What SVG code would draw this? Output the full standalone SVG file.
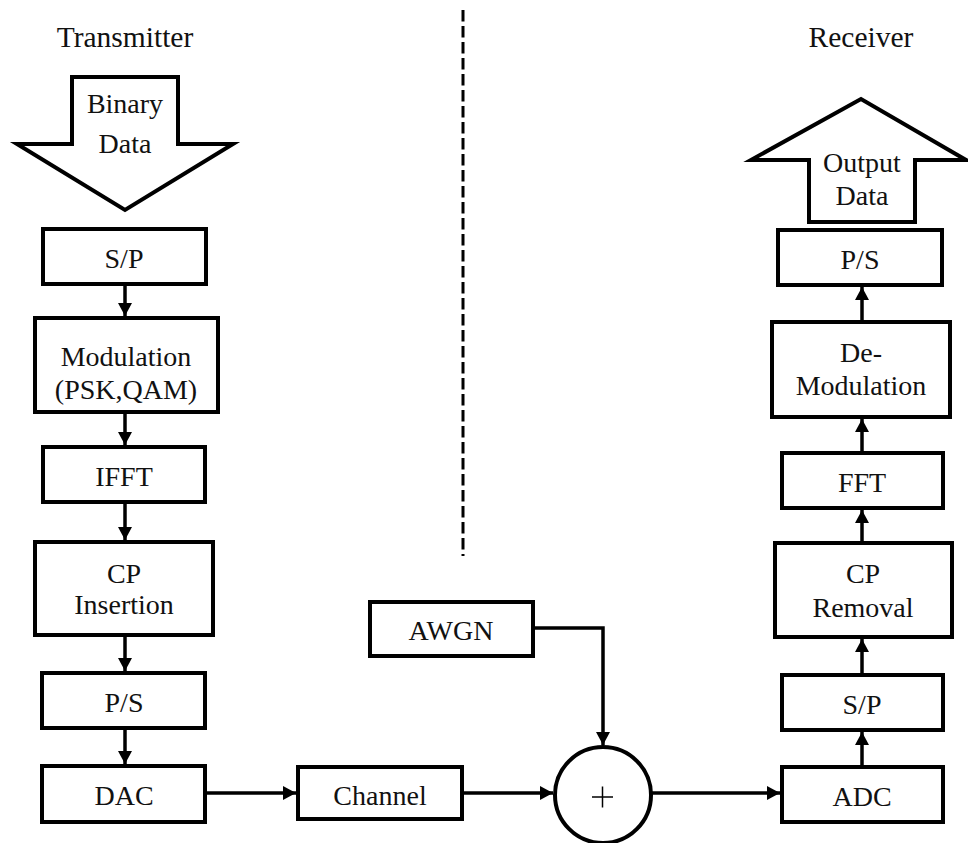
<svg xmlns="http://www.w3.org/2000/svg" width="968" height="843" viewBox="0 0 968 843">
  <style>
    .box { fill: #fff; stroke: #000; stroke-width: 4; }
    .big { fill: #fff; stroke: #000; stroke-width: 4; stroke-linejoin: miter; }
    .lbl { font-family: "Liberation Serif", "Times New Roman", serif; font-size: 28px; fill: #111; text-anchor: middle; }
    .title { font-size: 29.5px; }
    .wire { fill: none; stroke: #000; stroke-width: 3.5; }
    .sep { fill: none; stroke: #000; stroke-width: 3; stroke-dasharray: 11.5 4.5; }
  </style>
  <defs>
    <marker id="head" markerUnits="userSpaceOnUse" markerWidth="14" markerHeight="14" refX="13" refY="7" orient="auto">
      <path d="M0,0 L13,7 L0,14 z" fill="#000"/>
    </marker>
  </defs>

  <rect width="968" height="843" fill="#fff"/>

  <!-- transmitter / receiver split -->
  <line class="sep" x1="463" y1="10" x2="463" y2="556"/>

  <text class="lbl title" x="125" y="47">Transmitter</text>
  <text class="lbl title" x="861" y="47">Receiver</text>

  <!-- input data arrow -->
  <g id="binary-data">
    <polygon class="big" points="72,77 178,77 178,144 233,144 125,210 17,144 72,144"/>
    <text class="lbl" x="125" y="113">Binary</text>
    <text class="lbl" x="125" y="153">Data</text>
  </g>

  <!-- transmitter chain -->
  <g id="tx-sp">
    <rect class="box" x="43" y="229" width="163" height="55"/>
    <text class="lbl" x="124" y="268">S/P</text>
  </g>
  <g id="tx-mod">
    <rect class="box" x="35" y="318" width="183" height="94"/>
    <text class="lbl" x="126" y="366">Modulation</text>
    <text class="lbl" x="126" y="399">(PSK,QAM)</text>
  </g>
  <g id="tx-ifft">
    <rect class="box" x="43" y="447" width="162" height="55"/>
    <text class="lbl" x="124" y="486">IFFT</text>
  </g>
  <g id="tx-cp">
    <rect class="box" x="35" y="542" width="178" height="93"/>
    <text class="lbl" x="124" y="583">CP</text>
    <text class="lbl" x="124" y="614">Insertion</text>
  </g>
  <g id="tx-ps">
    <rect class="box" x="42" y="673" width="163" height="55"/>
    <text class="lbl" x="124" y="712">P/S</text>
  </g>
  <g id="tx-dac">
    <rect class="box" x="42" y="766" width="163" height="56"/>
    <text class="lbl" x="124" y="805">DAC</text>
  </g>

  <!-- channel path -->
  <g id="channel">
    <rect class="box" x="298" y="767" width="164" height="52"/>
    <text class="lbl" x="380" y="805">Channel</text>
  </g>
  <g id="awgn">
    <rect class="box" x="370" y="602" width="163" height="54"/>
    <text class="lbl" x="451" y="640">AWGN</text>
  </g>
  <g id="adder">
    <circle cx="603" cy="795" r="48" fill="#fff" stroke="#000" stroke-width="4"/>
    <line x1="592" y1="797" x2="613" y2="797" stroke="#000" stroke-width="1.5"/>
    <line x1="602.5" y1="786.5" x2="602.5" y2="807.5" stroke="#000" stroke-width="1.5"/>
  </g>

  <!-- receiver chain -->
  <g id="rx-adc">
    <rect class="box" x="782" y="767" width="161" height="55"/>
    <text class="lbl" x="862" y="806">ADC</text>
  </g>
  <g id="rx-sp">
    <rect class="box" x="782" y="675" width="161" height="55"/>
    <text class="lbl" x="862" y="714">S/P</text>
  </g>
  <g id="rx-cp">
    <rect class="box" x="775" y="543" width="177" height="94"/>
    <text class="lbl" x="863" y="583">CP</text>
    <text class="lbl" x="863" y="617">Removal</text>
  </g>
  <g id="rx-fft">
    <rect class="box" x="782" y="453" width="161" height="55"/>
    <text class="lbl" x="862" y="492">FFT</text>
  </g>
  <g id="rx-demod">
    <rect class="box" x="772" y="322" width="178" height="95"/>
    <text class="lbl" x="861" y="362">De-</text>
    <text class="lbl" x="861" y="395">Modulation</text>
  </g>
  <g id="rx-ps">
    <rect class="box" x="778" y="230" width="164" height="55"/>
    <text class="lbl" x="860" y="269">P/S</text>
  </g>

  <!-- output data arrow -->
  <g id="output-data">
    <polygon class="big" points="809,222 915,222 915,160 966,160 861,99 751,160 809,160"/>
    <text class="lbl" x="862" y="172">Output</text>
    <text class="lbl" x="862" y="205">Data</text>
  </g>

  <!-- connectors -->
  <g id="connectors">
    <line class="wire" x1="125" y1="286" x2="125" y2="316" marker-end="url(#head)"/>
    <line class="wire" x1="125" y1="414" x2="125" y2="445" marker-end="url(#head)"/>
    <line class="wire" x1="125" y1="504" x2="125" y2="540" marker-end="url(#head)"/>
    <line class="wire" x1="125" y1="637" x2="125" y2="671" marker-end="url(#head)"/>
    <line class="wire" x1="125" y1="730" x2="125" y2="764" marker-end="url(#head)"/>

    <line class="wire" x1="207" y1="793" x2="296" y2="793" marker-end="url(#head)"/>
    <line class="wire" x1="464" y1="793" x2="553" y2="793" marker-end="url(#head)"/>
    <polyline class="wire" points="535,628 603,628 603,745" marker-end="url(#head)"/>
    <line class="wire" x1="651" y1="793" x2="780" y2="793" marker-end="url(#head)"/>

    <line class="wire" x1="862" y1="765" x2="862" y2="732" marker-end="url(#head)"/>
    <line class="wire" x1="862" y1="673" x2="862" y2="639" marker-end="url(#head)"/>
    <line class="wire" x1="862" y1="541" x2="862" y2="510" marker-end="url(#head)"/>
    <line class="wire" x1="862" y1="451" x2="862" y2="419" marker-end="url(#head)"/>
    <line class="wire" x1="862" y1="320" x2="862" y2="287" marker-end="url(#head)"/>
  </g>
</svg>
